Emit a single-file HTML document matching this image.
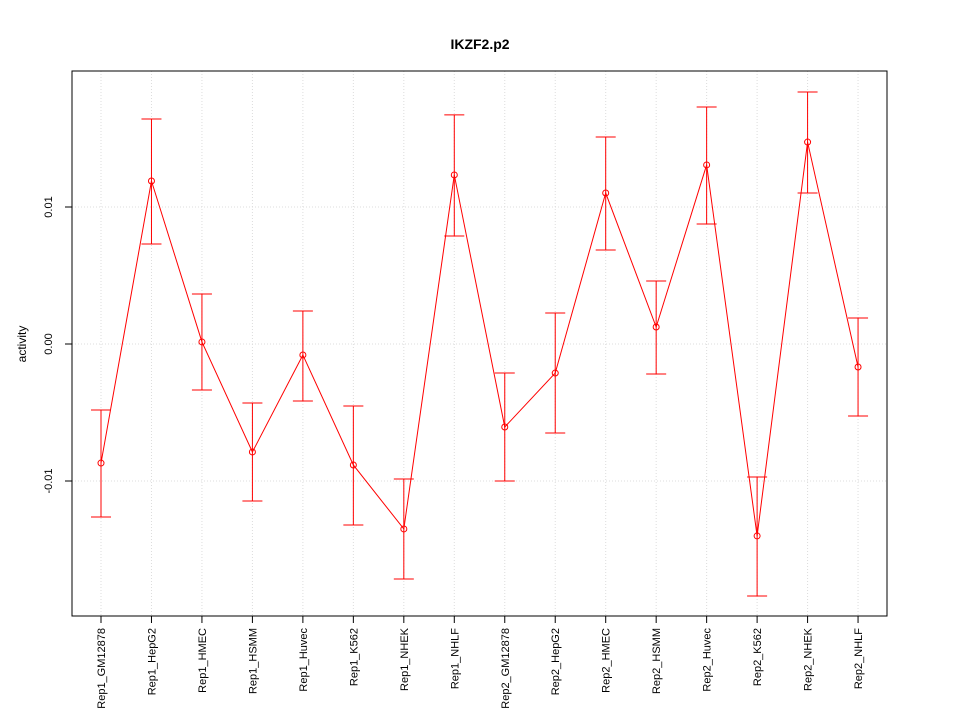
<!DOCTYPE html>
<html><head><meta charset="utf-8"><style>
body{margin:0;background:#fff;}
svg{display:block;font-family:"Liberation Sans",sans-serif;}
</style></head><body>
<svg id="chart" width="960" height="720" xmlns="http://www.w3.org/2000/svg">
<text x="480" y="49" text-anchor="middle" font-size="14" font-weight="bold">IKZF2.p2</text>
<text transform="translate(26,344) rotate(-90)" text-anchor="middle" font-size="12">activity</text>
<g id="grid"></g><g id="axes"></g><g id="marks"></g>
<rect x="72" y="71" width="815" height="545" fill="none" stroke="#000"/>
</svg>
<script>
const categories=["Rep1_GM12878","Rep1_HepG2","Rep1_HMEC","Rep1_HSMM","Rep1_Huvec","Rep1_K562","Rep1_NHEK","Rep1_NHLF","Rep2_GM12878","Rep2_HepG2","Rep2_HMEC","Rep2_HSMM","Rep2_Huvec","Rep2_K562","Rep2_NHEK","Rep2_NHLF"];
const means=[-0.00869,0.0119,0.00015,-0.00788,-0.0008,-0.00883,-0.0135,0.01234,-0.00606,-0.00212,0.01102,0.00124,0.01307,-0.01401,0.01474,-0.00168];
const upper=[-0.00482,0.01642,0.00365,-0.00431,0.00241,-0.00453,-0.00985,0.01672,-0.00212,0.00226,0.01511,0.0046,0.0173,-0.00971,0.01839,0.0019];
const lower=[-0.01263,0.0073,-0.00336,-0.01146,-0.00416,-0.01321,-0.01715,0.00788,-0.01,-0.0065,0.00686,-0.00219,0.00876,-0.01839,0.01102,-0.00526];
const yTicks=[-0.01,0,0.01];
const yTickLabels=["-0.01","0.00","0.01"];
const NS="http://www.w3.org/2000/svg";
const x=i=>101+i*50.47;
const y=v=>344-v*13700;
function mk(p,t,a){const e=document.createElementNS(NS,t);for(const k in a)e.setAttribute(k,a[k]);document.getElementById(p).appendChild(e);return e;}
categories.forEach((c,i)=>{
 const g=mk("grid","line",{x1:x(i),x2:x(i),y1:71,y2:616,stroke:"#dcdcdc","stroke-dasharray":"1,2"});
 
 
 const t=mk("axes","line",{x1:x(i),x2:x(i),y1:616,y2:623,stroke:"#000"});
 
 
 const l=mk("axes","text",{transform:`translate(${x(i)+4},628) rotate(-90)`,"text-anchor":"end","font-size":"11"});
 l.textContent=c;
 
 
});
yTicks.forEach((v,i)=>{
 const g=mk("grid","line",{x1:72,x2:887,y1:y(v),y2:y(v),stroke:"#dcdcdc","stroke-dasharray":"1,2"});
 
 
 const t=mk("axes","line",{x1:65,x2:72,y1:y(v),y2:y(v),stroke:"#000"});
 
 
 const l=mk("axes","text",{transform:`translate(52,${y(v)}) rotate(-90)`,"text-anchor":"middle","font-size":"11"});
 l.textContent=yTickLabels[i];
 
 
});
const line=mk("marks","polyline",{points:means.map((m,i)=>x(i)+","+y(m)).join(" "),fill:"none",stroke:"#f00"});


means.forEach((m,i)=>{
 const cx=x(i);
 const e=mk("marks","path",{d:`M${cx},${y(upper[i])}V${y(lower[i])}M${cx-10},${y(upper[i])}H${cx+10}M${cx-10},${y(lower[i])}H${cx+10}`,stroke:"#f00",fill:"none"});
 
 
 const p=mk("marks","circle",{cx:cx,cy:y(m),r:3,fill:"none",stroke:"#f00"});
 
 
});
</script>
</body></html>
